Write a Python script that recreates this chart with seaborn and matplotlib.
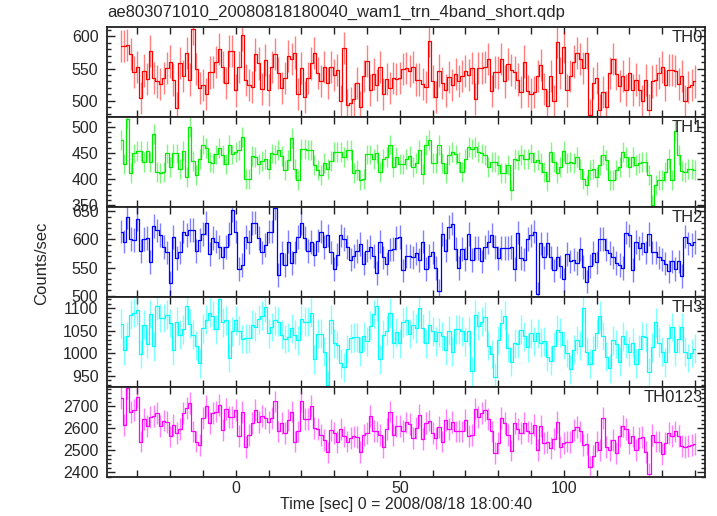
import numpy as np
import pandas as pd
import matplotlib
matplotlib.use('Agg')
import matplotlib.pyplot as plt
from matplotlib.ticker import MultipleLocator
import seaborn as sns

title = 'ae803071010_20080818180040_wam1_trn_4band_short.qdp'
t_start = -35  # centre of first 1 s bin

# count rates (1 s bins)
th0 = [585, 585, 587, 573, 545, 552, 504, 547, 534, 577, 535, 530, 526, 535, 551, 561, 533, 489, 559, 538,
       574, 533, 611, 549, 520, 525, 510, 544, 545, 560, 580, 553, 527, 578, 577, 516, 552, 602, 532, 525,
       522, 572, 558, 518, 563, 517, 553, 573, 543, 520, 535, 570, 565, 575, 511, 551, 506, 535, 558, 574,
       543, 531, 553, 527, 553, 540, 548, 499, 582, 494, 496, 502, 528, 490, 539, 562, 517, 542, 525, 552,
       511, 534, 520, 535, 534, 535, 550, 551, 546, 552, 533,
       533, 526, 522, 593, 530, 506, 547, 528, 516, 537, 525, 542, 531, 539, 546, 540, 551, 503, 551, 551,
       553, 565, 515, 545, 544, 565, 530, 557, 548, 544, 533, 513, 561, 515, 511, 513, 538, 556, 518, 492,
       539, 500, 591, 543, 583, 516, 538, 561, 574, 565, 551, 574, 478, 528, 535, 486, 513, 490, 543, 565,
       542, 523, 539, 517, 543, 517, 533, 517, 499, 532, 486, 530, 532, 543, 553, 525, 548, 548, 546, 526,
       539, 499, 522, 525, 530]
th1 = [474, 428, 515, 411, 449, 453, 453, 433, 453, 433, 486, 413, 411, 414, 449, 423, 449, 449, 419, 453,
       404, 500, 434, 407, 439, 466, 460, 433, 430, 447, 460, 446, 428, 466, 447, 452, 455, 481, 400, 400,
       444, 443, 428, 434, 438, 419, 449, 447, 455, 444, 417, 436, 478, 419, 398, 457, 457, 455, 455, 427,
       417, 407, 430, 419, 434, 451, 451, 452, 443, 455, 455, 411, 417, 398, 401, 447, 447, 439, 449, 413,
       439, 443, 466, 423, 443, 428, 428, 439, 444, 423, 430,
       455, 409, 465, 474, 430, 430, 465, 430, 411, 446, 452, 447, 433, 414, 439, 462, 458, 462, 452, 449,
       446, 423, 433, 433, 427, 411, 411, 427, 379, 439, 437, 446, 439, 439, 449, 433, 436, 430, 414, 396,
       452, 433, 411, 423, 453, 430, 432, 430, 443, 420, 401, 388, 417, 419, 404, 427, 446, 436, 398, 398,
       417, 423, 451, 443, 423, 443, 427, 430, 433, 433, 407, 351, 388, 398, 398, 414, 439, 398, 492, 446,
       415, 413, 419, 420, 418]
th2 = [614, 596, 640, 601, 599, 636, 579, 601, 602, 560, 624, 616, 608, 587, 577, 523, 604, 567, 577, 614,
       608, 617, 617, 579, 599, 610, 629, 574, 602, 596, 586, 568, 586, 610, 652, 614, 547, 555, 604, 595,
       629, 630, 602, 577, 590, 614, 614, 656, 537, 576, 555, 596, 558, 577, 604, 629, 602, 579, 595, 573,
       598, 614, 587, 607, 577, 547, 573, 607, 601, 587, 564, 570, 579, 592, 557, 580, 587, 570, 540, 596,
       568, 557, 582, 583, 602, 604, 545, 571, 571, 568, 575,
       563, 596, 547, 570, 577, 549, 509, 610, 580, 622, 628, 583, 549, 583, 565, 610, 563, 585, 585, 561,
       587, 595, 608, 587, 567, 585, 585, 585, 586, 547, 612, 567, 564, 601, 607, 614, 503, 593, 568, 593,
       568, 545, 568, 552, 529, 574, 561, 564, 558, 583, 551, 525, 553, 576, 559, 601, 601, 582, 576, 568,
       558, 555, 549, 612, 607, 546, 595, 585, 593, 577, 610, 577, 577, 568, 564, 557, 543, 561, 547, 561,
       535, 605, 593, 590, 595]
th3 = [1065, 1006, 1038, 1085, 1090, 1095, 998, 1063, 1020, 1087, 1015, 1105, 1078, 1078, 1085, 1067, 1006, 1070, 1041, 1053,
       1105, 1065, 1041, 1016, 977, 1055, 1074, 1090, 1083, 1053, 1120, 1068, 1073, 989, 1048, 1073, 1050, 1031, 1033, 1033,
       1063, 1059, 1075, 1083, 1102, 1044, 1058, 1073, 1070, 1041, 1031, 1035, 1055, 1041, 1028, 1075, 1070, 1070, 1090, 986,
       1043, 1043, 1003, 929, 1074, 1022, 1018, 977, 968, 1009, 1033, 1035, 1035, 1003, 1037, 1026, 1061, 1087, 1104, 986,
       1041, 1050, 1090, 1022, 1046, 1022, 1068, 1073, 1043, 1063, 1055,
       1100, 1055, 1022, 1063, 1048, 1026, 1046, 1038, 1006, 1050, 1003, 1053, 1053, 1048, 1026, 1048, 959, 1085, 1061, 1070,
       1081, 1016, 998, 946, 1029, 1067, 1083, 1011, 981, 1022, 1020, 1052, 1037, 1013, 1044, 1026, 1044, 1023, 1026, 992,
       983, 1015, 1052, 1046, 1018, 1000, 964, 1007, 1029, 1016, 1100, 1003, 976, 1006, 1044, 1083, 1038, 992, 966, 1028,
       1020, 981, 1037, 1020, 1003, 1023, 976, 1009, 1038, 1035, 957, 1013, 1068, 1023, 1003, 979, 1033, 1058, 1003, 1031,
       1058, 1003, 989, 1000, 1010]
th0123 = [2738, 2616, 2784, 2673, 2685, 2743, 2540, 2642, 2612, 2651, 2657, 2670, 2609, 2636, 2631, 2563, 2616, 2578, 2596, 2670,
          2692, 2715, 2586, 2540, 2525, 2647, 2703, 2624, 2670, 2677, 2708, 2593, 2688, 2651, 2654, 2685, 2566, 2673, 2517, 2571,
          2624, 2685, 2631, 2657, 2647, 2631, 2647, 2723, 2586, 2624, 2581, 2639, 2677, 2540, 2586, 2723, 2642, 2642, 2703, 2601,
          2596, 2571, 2548, 2490, 2593, 2581, 2536, 2596, 2563, 2540, 2555, 2563, 2560, 2494, 2571, 2581, 2657, 2590, 2586, 2571,
          2517, 2596, 2677, 2571, 2612, 2612, 2590, 2627, 2621, 2555, 2600,
          2662, 2551, 2624, 2636, 2581, 2555, 2606, 2540, 2639, 2596, 2631, 2586, 2590, 2586, 2639, 2566, 2571, 2688, 2654, 2670,
          2682, 2642, 2586, 2487, 2532, 2647, 2624, 2571, 2499, 2624, 2596, 2578, 2624, 2586, 2578, 2616, 2502, 2609, 2532, 2536,
          2510, 2551, 2631, 2517, 2532, 2540, 2536, 2593, 2606, 2586, 2525, 2529, 2423, 2472, 2540, 2502, 2647, 2517, 2502, 2548,
          2487, 2566, 2609, 2596, 2532, 2563, 2502, 2555, 2560, 2494, 2392, 2571, 2540, 2540, 2484, 2532, 2581, 2566, 2586, 2566,
          2520, 2517, 2520, 2525, 2530]

bands = ['TH0', 'TH1', 'TH2', 'TH3', 'TH0123']
series = [th0, th1, th2, th3, th0123]
errors = [25, 19, 21, 32, 50]
colors = ['#ff0000', '#00ee00', '#0000ff', '#00ffff', '#ff00ff']
ylims = [(475, 615), (347, 519), (498, 658), (925, 1125), (2379, 2790)]
yticks = [[500, 550, 600], [350, 400, 450, 500], [500, 550, 600, 650],
          [950, 1000, 1050, 1100], [2400, 2500, 2600, 2700]]
yminor = [10, 10, 10, 10, 20]

sns.set_style('ticks')
plt.rcParams['font.family'] = ['Liberation Sans', 'DejaVu Sans']
plt.rcParams['font.size'] = 11.5

fig, axes = plt.subplots(5, 1, sharex=True, figsize=(7.17, 5.16), dpi=100)
fig.subplots_adjust(left=0.149, right=0.983, top=0.948, bottom=0.076, hspace=0)

for ax, name, vals, err, col, lim, ytk, ymn in zip(axes, bands, series, errors, colors, ylims, yticks, yminor):
    df = pd.DataFrame({'time': t_start + np.arange(len(vals)), 'rate': vals})
    ax.vlines(df['time'], df['rate'] - err, df['rate'] + err, color=col, lw=1.0, alpha=0.5)
    sns.lineplot(data=df, x='time', y='rate', ax=ax, color=col, lw=0.9, drawstyle='steps-mid')
    ax.set_ylim(*lim)
    ax.set_yticks(ytk)
    ax.yaxis.set_minor_locator(MultipleLocator(ymn))
    ax.set_xlabel('')
    ax.set_ylabel('')
    ax.text(0.997, 0.96, name, transform=ax.transAxes, ha='right', va='top', fontsize=12)
    ax.tick_params(which='both', direction='in', top=True, right=True, width=1.0, color='#222222')
    ax.tick_params(which='major', length=6, pad=6)
    ax.tick_params(which='minor', length=3)
    ax.tick_params(axis='x', which='both', length=5)
    for s in ax.spines.values():
        s.set_linewidth(1.3)
        s.set_color('#222222')

axes[-1].set_xlim(-39.3, 143.0)
axes[-1].xaxis.set_major_locator(MultipleLocator(50))
axes[-1].xaxis.set_minor_locator(MultipleLocator(10))
axes[-1].tick_params(axis='x', pad=3)
axes[-1].set_xlabel('Time [sec] 0 = 2008/08/18 18:00:40', fontsize=11.5, labelpad=1)

fig.text(0.149, 0.976, title, ha='left', va='center', fontsize=12)
fig.text(0.058, 0.49, 'Counts/sec', rotation=90, ha='center', va='center', fontsize=12)

fig.savefig('out.png', dpi=100)
